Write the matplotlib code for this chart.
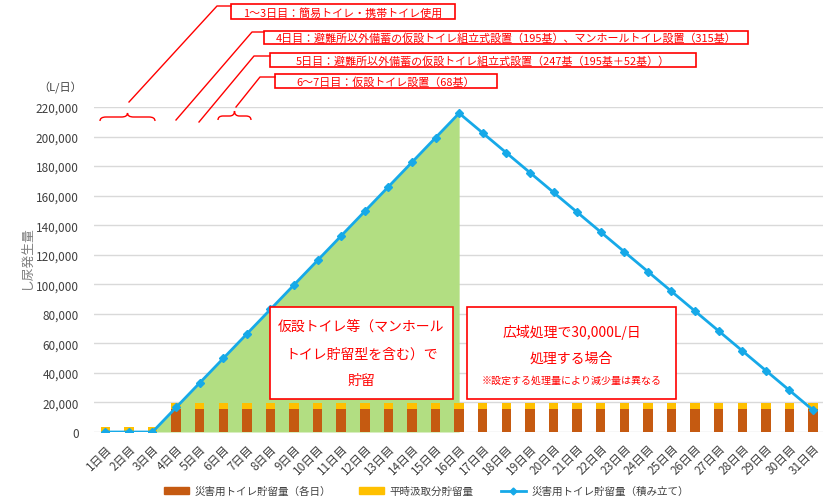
import matplotlib
matplotlib.use("Agg")
import matplotlib.pyplot as plt
from matplotlib.patches import Rectangle, Patch, PathPatch
from matplotlib.lines import Line2D
from matplotlib.path import Path
from matplotlib.ticker import FuncFormatter

plt.rcParams['font.family'] = ['Noto Sans CJK JP', 'DejaVu Sans']

# ---- data ----
days = ["1日目", "2日目", "3日目", "4日目", "5日目", "6日目", "7日目", "8日目", "9日目", "10日目",
        "11日目", "12日目", "13日目", "14日目", "15日目", "16日目", "17日目", "18日目", "19日目", "20日目",
        "21日目", "22日目", "23日目", "24日目", "25日目", "26日目", "27日目", "28日目", "29日目", "30日目", "31日目"]
daily_storage = [0, 0, 0, 15800, 15800, 15800, 15800, 15800, 15800, 15800,
                 15800, 15800, 15800, 15800, 15800, 15800, 15800, 15800, 15800, 15800,
                 15800, 15800, 15800, 15800, 15800, 15800, 15800, 15800, 15800, 15800, 15800]
normal_storage = [3100, 3100, 3100, 3850, 3850, 3850, 3850, 3850, 3850, 3850,
                  3850, 3850, 3850, 3850, 3850, 3850, 3850, 3850, 3850, 3850,
                  3850, 3850, 3850, 3850, 3850, 3850, 3850, 3850, 3850, 3850, 3850]
cumulative = [0, 0, 0, 16600, 33200, 49800, 66400, 83000, 99600, 116200,
              132800, 149400, 166000, 182600, 199200, 215800, 202400, 189000, 175600, 162200,
              148800, 135400, 122000, 108600, 95200, 81800, 68400, 55000, 41600, 28200, 14800]
fill_start, fill_end = 2, 15  # indexes of days 3 and 16
yticks = [0, 20000, 40000, 60000, 80000, 100000, 120000, 140000, 160000, 180000, 200000, 220000]

labels = {
    "bar1": "災害用トイレ貯留量（各日）",
    "bar2": "平時汲取分貯留量",
    "line": "災害用トイレ貯留量（積み立て）",
}
notes = [
    "1～3日目：簡易トイレ・携帯トイレ使用",
    "4日目：避難所以外備蓄の仮設トイレ組立式設置（195基）、マンホールトイレ設置（315基）",
    "5日目：避難所以外備蓄の仮設トイレ組立式設置（247基（195基＋52基））",
    "6～7日目：仮設トイレ設置（68基）",
]

W, H = 823, 502
fig = plt.figure(figsize=(W / 100, H / 100), dpi=100)

def fx(x):
    return x / W

def fy(y):
    return 1 - y / H

ax = fig.add_axes([fx(93.5), fy(433), (824.8 - 93.5) / W, (433 - 108) / H])

x = list(range(len(days)))
brown = '#C55A11'
yellow = '#FFC000'
blue = '#16A9E8'
green = '#B2DE82'
red = '#FF0000'

# green area
ax.fill_between(x[fill_start:fill_end + 1], cumulative[fill_start:fill_end + 1], 0,
                color=green, zorder=1, linewidth=0)

ax.bar(x, daily_storage, width=0.4, color=brown, zorder=2, label=labels["bar1"])
ax.bar(x, normal_storage, width=0.4, bottom=daily_storage, color=yellow, zorder=2, label=labels["bar2"])
ax.plot(x, cumulative, color=blue, lw=2, marker='D', ms=4.5, zorder=4, label=labels["line"])

ax.set_xlim(-0.5, len(days) - 0.5)
ax.set_ylim(0, 220000)
ax.set_yticks(yticks)
ax.yaxis.set_major_formatter(FuncFormatter(lambda v, p: f"{int(v):,}"))
ax.set_xticks(x)
ax.set_xticklabels(days, rotation=45, ha='right', rotation_mode='anchor')
ax.tick_params(axis='both', length=0, colors='#404040', labelsize=8.5)
ax.tick_params(axis='x', pad=7)
ax.tick_params(axis='y', pad=10.5)
ax.grid(axis='y', color='#D9D9D9', lw=1, zorder=0)
ax.set_axisbelow(True)
for s in ax.spines.values():
    s.set_visible(False)

# axis titles
fig.text(fx(26), fy(257), "し尿発生量", rotation=90, ha='center', va='center', color='#7F7F7F', fontsize=9.2)
fig.text(fx(60), fy(88), "（L/日）", ha='center', va='center', color='#404040', fontsize=8)

# top annotation boxes
boxes = [(231, 5, 455, 20), (264, 32, 748, 45), (270, 54, 696, 68), (275, 75, 497, 89)]
leaders = [((217, 7), (231, 7), (129, 103)),
           ((252, 33), (264, 33), (176, 121)),
           ((254, 57), (270, 57), (199, 123)),
           ((260, 78), (275, 78), (236, 108))]
for (x0, y0, x1, y1), txt, (corner, attach, tip) in zip(boxes, notes, leaders):
    fig.add_artist(Rectangle((fx(x0), fy(y1)), (x1 - x0) / W, (y1 - y0) / H,
                             transform=fig.transFigure, facecolor='white', edgecolor=red, lw=1.2))
    fig.text(fx((x0 + x1) / 2), fy((y0 + y1) / 2 + 0.5), txt, ha='center', va='center', color=red, fontsize=7.9)
    fig.add_artist(Line2D([fx(tip[0]), fx(corner[0]), fx(attach[0])],
                          [fy(tip[1]), fy(corner[1]), fy(attach[1])],
                          transform=fig.transFigure, color=red, lw=1))

def brace(x0, x1, yb, yf, yt, r=6):
    xc = (x0 + x1) / 2
    pts = [(x0, yb), (x0, yf), (x0 + r, yf), (xc - r, yf), (xc, yf), (xc, yt),
           (xc, yf), (xc + r, yf), (x1 - r, yf), (x1, yf), (x1, yb)]
    codes = [Path.MOVETO, Path.CURVE3, Path.CURVE3, Path.LINETO, Path.CURVE3, Path.CURVE3,
             Path.CURVE3, Path.CURVE3, Path.LINETO, Path.CURVE3, Path.CURVE3]
    verts = [(fx(a), fy(b)) for a, b in pts]
    fig.add_artist(PathPatch(Path(verts, codes), transform=fig.transFigure,
                             facecolor='none', edgecolor=red, lw=1))

brace(100, 155, 122, 118, 114)
brace(218, 251, 121, 117, 112, r=5)

# centre boxes
fig.add_artist(Rectangle((fx(270), fy(400)), (453 - 270) / W, (400 - 308) / H,
                         transform=fig.transFigure, facecolor='white', edgecolor=red, lw=1.2, zorder=5))
fig.text(fx(361.5), fy(327), "仮設トイレ等（マンホール", ha='center', va='center', color=red, fontsize=10, zorder=6)
fig.text(fx(361.5), fy(355), "トイレ貯留型を含む）で", ha='center', va='center', color=red, fontsize=10, zorder=6)
fig.text(fx(361.5), fy(381), "貯留", ha='center', va='center', color=red, fontsize=10, zorder=6)

fig.add_artist(Rectangle((fx(467), fy(400)), (676 - 467) / W, (400 - 308) / H,
                         transform=fig.transFigure, facecolor='white', edgecolor=red, lw=1.2, zorder=5))
fig.text(fx(571.5), fy(332), "広域処理で30,000L/日", ha='center', va='center', color=red, fontsize=10, zorder=6)
fig.text(fx(571.5), fy(359), "処理する場合", ha='center', va='center', color=red, fontsize=10, zorder=6)
fig.text(fx(571.5), fy(381), "※設定する処理量により減少量は異なる", ha='center', va='center', color=red, fontsize=7.2, zorder=6)

# legend
handles = [Patch(color=brown), Patch(color=yellow),
           Line2D([0], [0], color=blue, lw=2, marker='D', ms=3.5)]
fig.legend(handles, [labels["bar1"], labels["bar2"], labels["line"]], loc='center',
           bbox_to_anchor=(fx(426.5), fy(492)), ncol=3, frameon=False, fontsize=7.6,
           handlelength=2.4, handleheight=0.6, columnspacing=2.6, handletextpad=0.5,
           labelcolor='#404040')

fig.savefig("out.png", dpi=100)
